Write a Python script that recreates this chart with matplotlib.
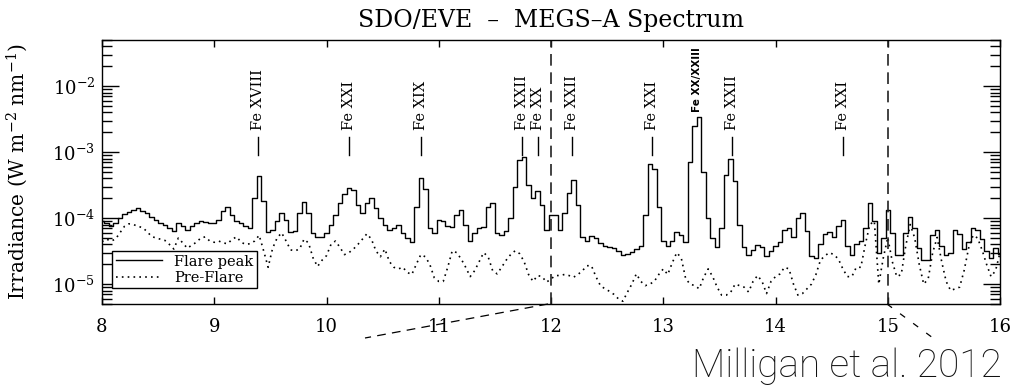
import numpy as np
import matplotlib
matplotlib.use("Agg")
import matplotlib.pyplot as plt
from matplotlib.lines import Line2D

plt.rcParams['font.family'] = ['DejaVu Serif']
plt.rcParams['mathtext.fontset'] = 'dejavuserif'

# --- data: MEGS-A irradiance, 0.04 nm bins from 8 to 16 nm (units of 1e-5 W m-2 nm-1) ---
flare = [
    9.0, 8.5, 7.5, 8.5, 10, 11.5, 12.5, 13.5, 14, 13, 12, 10.5, 9.5, 8.5, 8, 7, 6.3, 8.5, 7.5, 6.6, 7.5, 8.5, 9, 8.8, 8.5,   # 8.xx
    8.5, 9.5, 13, 15, 11, 9, 8.5, 7.6, 7.2, 20, 44, 18, 6.2, 6.5, 9, 12, 9.5, 6.2, 6.3, 12, 17.5, 12, 6, 5.2, 5.2,       # 9.xx
    6, 8, 11, 17, 23, 29, 27, 16, 12, 17, 20, 14, 10, 8, 6.5, 7, 7.9, 6, 5, 4.4, 15, 40, 28, 7, 6,                       # 10.xx
    9.5, 9, 7.6, 7.3, 11, 13.5, 8, 4.5, 6, 7.2, 7.3, 15, 17, 6, 5.5, 6.4, 10, 30, 75, 85, 32, 20, 26, 16, 6.5,          # 11.xx
    11, 11, 6.5, 12, 24, 38, 16, 5.1, 4.5, 5.4, 5, 4.2, 3.8, 3.7, 3.5, 3.2, 2.8, 2.9, 3.1, 3.4, 3.8, 11, 65, 55, 15,     # 12.xx
    4.5, 3.8, 4.5, 6.2, 5.5, 4.3, 70, 250, 340, 50, 10, 5, 3.6, 7, 45, 80, 36, 8, 3.6, 2.8, 3.3, 3.9, 3.6, 2.7, 3.2,     # 13.xx
    3.8, 4.3, 6.5, 7, 5.2, 10, 12, 6.4, 2.7, 2.5, 4, 5.8, 6.2, 5.1, 7.5, 9.5, 3.8, 2.8, 4, 4.5, 7.2, 17, 9, 3, 5,        # 14.xx
    13.5, 6, 2.8, 2.8, 6, 10.5, 7, 3.5, 2.3, 2.3, 5.5, 6.5, 3.8, 2.8, 3, 6.5, 5.7, 3.4, 4.3, 7, 6.5, 4.8, 3.2, 2.5, 3.5,  # 15.xx
    2.9,
]
preflare = [
    4.4, 4.8, 4.5, 4.8, 6, 7.5, 8.2, 8, 7.5, 7.2, 6.3, 5.3, 5, 4.8, 4.6, 4, 3.4, 5, 4.2, 3.5, 3.9, 4.3, 5, 5.2, 4.5,
    4.3, 4.5, 4.2, 4.1, 4.8, 5.2, 4.3, 4.0, 4.1, 4.5, 5.5, 3.2, 1.8, 3.5, 5, 6, 4.5, 3.3, 3.2, 3.4, 4.8, 4.2, 2.5, 1.85, 2.3,
    2.7, 4, 4.5, 3.6, 2.8, 3, 3.4, 4, 4.8, 5.8, 4.8, 3.2, 2.6, 3.4, 2.2, 1.8, 1.7, 1.8, 1.5, 1.4, 2, 2.8, 2.6, 2, 1.25,
    1.1, 1.1, 1.8, 3.2, 3, 2.4, 1.8, 1.3, 1.6, 2.2, 3, 2.6, 1.6, 1.43, 1.8, 2.3, 2.8, 3.2, 2.9, 2.2, 1.4, 1.1, 1.35, 1.3, 1.07,
    1.2, 1.35, 1.35, 1.4, 1.35, 1.27, 1.4, 1.6, 1.9, 1.9, 1.3, 0.95, 0.85, 0.78, 0.7, 0.6, 0.55, 0.75, 1.0, 1.43, 1.1, 0.95, 1.0, 1.1, 1.4,
    1.7, 1.4, 2.1, 3, 2.5, 1.2, 1.0, 0.95, 0.85, 1.27, 1.7, 1.3, 0.9, 0.68, 0.68, 0.75, 1.0, 0.95, 0.9, 0.76, 1.1, 1.35, 1.1, 0.72, 1.1,
    1.3, 1.43, 1.8, 1.7, 1.0, 0.68, 0.72, 0.85, 1.0, 1.4, 2.3, 2.7, 3, 2.8, 2.4, 1.7, 1.3, 1.3, 1.8, 1.8, 4, 8, 9, 1.0, 2.5,
    5.1, 2.2, 1.3, 1.4, 3.8, 8, 5, 2, 1.0, 1.2, 3, 5.1, 2.2, 1.1, 0.8, 0.85, 0.9, 1.6, 3.5, 5.5, 5, 3.3, 2, 1.3, 1.6,
    3.0,
]
wave = np.linspace(8, 16, len(flare))

# line identifications
line_names = ["Fe XVIII", "Fe XXI", "Fe XIX", "Fe XXII", "Fe XX", "Fe XXII", "Fe XXI", "Fe XXII", "Fe XXI"]
line_waves = [9.39, 10.20, 10.84, 11.74, 11.88, 12.19, 12.90, 13.61, 14.60]
blend_name = "Fe XX/XXIII"
blend_wave = 13.30

fig = plt.figure(figsize=(10.22, 3.92), dpi=100)
ax = fig.add_axes([0.0998, 0.2245, 0.8787, 0.6735])

ax.plot(wave, np.array(flare) * 1e-5, color='k', lw=1.0, drawstyle='steps-mid', label='Flare peak')
ax.plot(wave, np.array(preflare) * 1e-5, color='k', lw=1.2, linestyle=(0, (1, 2.5)), label='Pre-Flare')

ax.set_yscale('log')
ax.set_xlim(8, 16)
ax.set_ylim(5e-6, 5e-2)
ax.set_xticks(range(8, 17))
ax.set_yticks([1e-5, 1e-4, 1e-3, 1e-2])
ax.set_yticklabels([r'$10^{-5}$', r'$10^{-4}$', r'$10^{-3}$', r'$10^{-2}$'])
ax.tick_params(axis='both', which='both', direction='in', top=True, right=True, width=1)
ax.tick_params(axis='y', which='major', length=12, pad=5, labelsize=13)
ax.tick_params(axis='y', which='minor', length=7)
ax.tick_params(axis='x', which='major', length=5, pad=10, labelsize=13)
ax.minorticks_on()
ax.tick_params(axis='x', which='minor', bottom=False, top=False)
for s in ax.spines.values():
    s.set_linewidth(1.0)

ax.set_ylabel(r'Irradiance (W m$^{-2}$ nm$^{-1}$)', fontsize=14.5)
ax.yaxis.set_label_coords(-0.08, 0.5)

fig.text(551 / 1022, 1 - 20 / 392, 'SDO/EVE  \u2013  MEGS\u2013A Spectrum', ha='center', va='center', fontsize=17)

# zoom region markers
for xv in [12, 15]:
    ax.axvline(xv, color='#222222', lw=1.2, dashes=(7, 4))

# line labels with short tick marks
trans = ax.get_xaxis_transform()
for name, wl in zip(line_names, line_waves):
    ax.plot([wl, wl], [0.564, 0.633], color='k', lw=1.0, transform=trans)
    ax.text(wl, 0.66, name, rotation=90, ha='center', va='bottom', fontsize=10.5, transform=trans)
ax.text(blend_wave, 0.727, blend_name, rotation=90, ha='center', va='bottom', fontsize=7.5,
        fontweight='bold', family=['DejaVu Sans'], transform=trans)

leg = ax.legend(loc='lower left', bbox_to_anchor=(0.011, 0.059), borderaxespad=0, fancybox=False,
                edgecolor='k', framealpha=1, fontsize=10.5, handlelength=3.2, handletextpad=0.8,
                borderpad=0.25, labelspacing=0.15)
leg.get_frame().set_linewidth(1.0)

# dashed lines leading to the next panel
y0 = 1 - 304 / 392
y1 = 1 - 338 / 392
fig.add_artist(Line2D([548 / 1022, 365 / 1022], [y0, y1], color='k', lw=0.9, dashes=(7, 5)))
fig.add_artist(Line2D([887 / 1022, 933 / 1022], [y0, y1], color='k', lw=0.9, dashes=(5, 8)))

fig.text(1002 / 1022, 1 - 377 / 392, 'Milligan et al. 2012', ha='right', va='baseline',
         fontsize=28, family=['Roboto', 'DejaVu Sans'], fontweight='light', color='#111111')

fig.savefig('out.png', dpi=100)
